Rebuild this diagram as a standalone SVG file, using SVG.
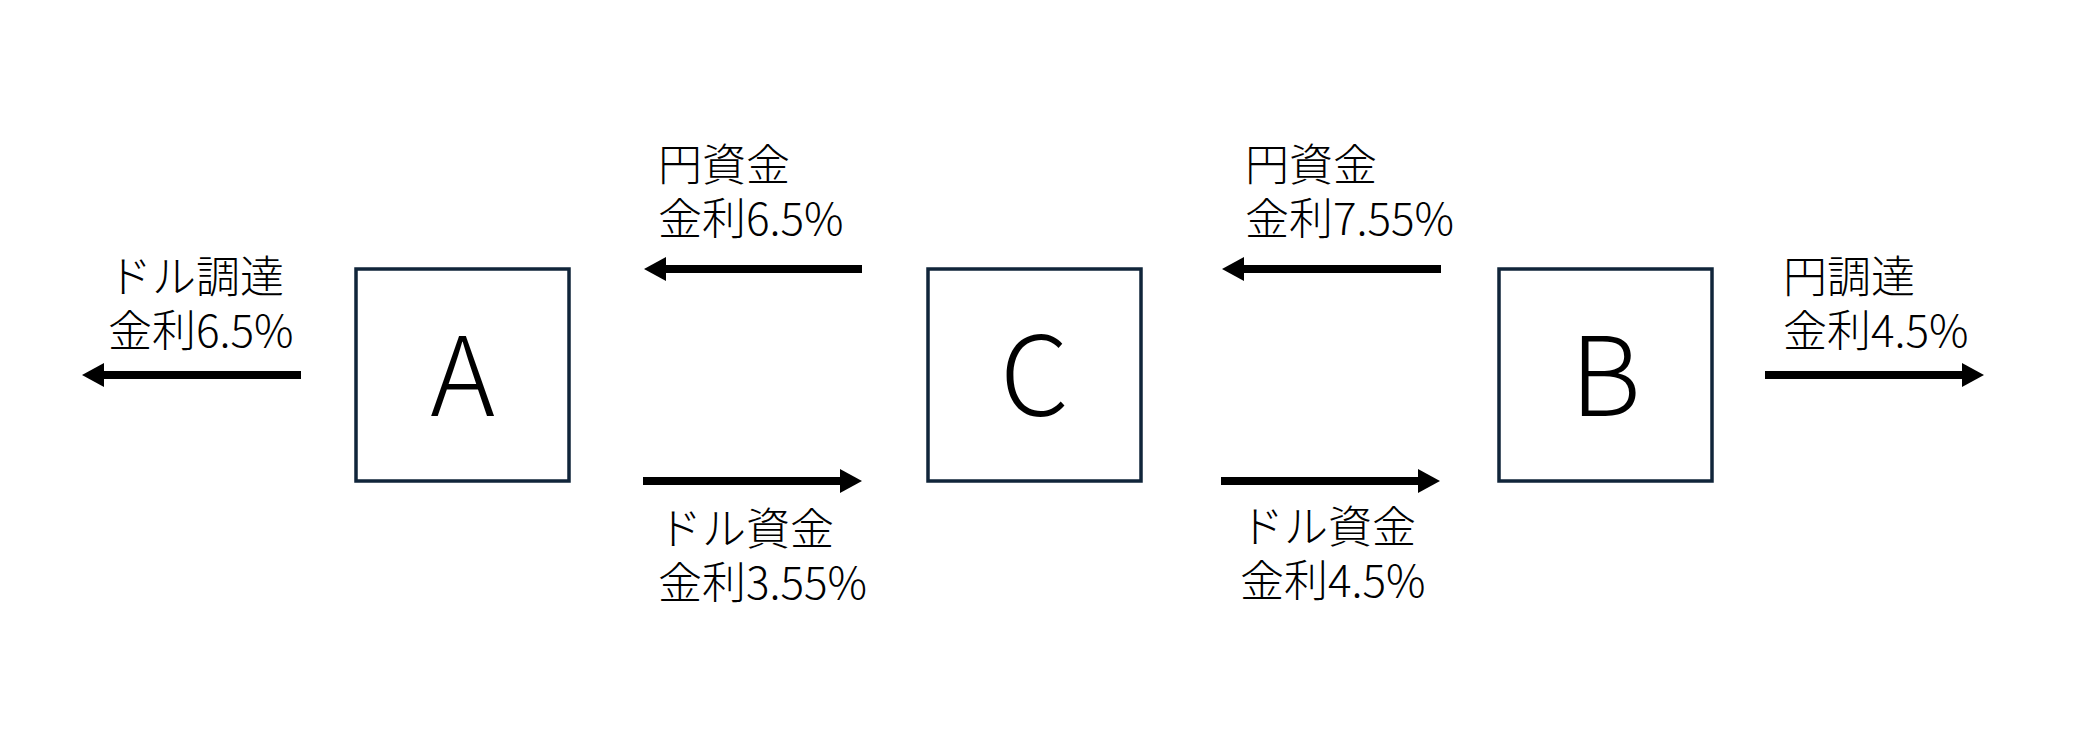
<svg xmlns="http://www.w3.org/2000/svg" width="2084" height="734" viewBox="0 0 2084 734">
<style>
.box{fill:#ffffff;stroke:#10253a;stroke-width:3.5}
.lt{font-family:"Noto Sans CJK JP","Noto Sans",sans-serif;font-size:110px;fill:#000;text-anchor:middle;font-weight:300}
.lb{font-family:"Noto Sans CJK JP","Noto Sans",sans-serif;font-size:44px;fill:#000;font-weight:300}
.ar{stroke:#000;stroke-width:8;fill:none;marker-end:url(#ah)}
</style>
<defs>
<marker id="ah" markerUnits="userSpaceOnUse" markerWidth="22" markerHeight="24" refX="1" refY="12" orient="auto">
<path d="M0,0 L22,12 L0,24 z" fill="#000"/>
</marker>
</defs>
<rect width="2084" height="734" fill="#ffffff"/>
<g id="node-A">
<rect class="box" x="356" y="269" width="213" height="212"/>
<text class="lt" x="462.5" y="416">A</text>
</g>
<g id="node-C">
<rect class="box" x="928" y="269" width="213" height="212"/>
<text class="lt" x="1034.5" y="416">C</text>
</g>
<g id="node-B">
<rect class="box" x="1499" y="269" width="213" height="212"/>
<text class="lt" x="1605.5" y="416">B</text>
</g>
<g id="connectors">
<line class="ar" x1="301" y1="375" x2="103" y2="375"/>
<line class="ar" x1="862" y1="269" x2="665" y2="269"/>
<line class="ar" x1="643" y1="481" x2="841" y2="481"/>
<line class="ar" x1="1441" y1="269" x2="1243" y2="269"/>
<line class="ar" x1="1221" y1="481" x2="1419" y2="481"/>
<line class="ar" x1="1765" y1="375" x2="1963" y2="375"/>
</g>
<g id="labels">
<text class="lb" x="108" y="293"><tspan x="108" y="293">ドル調達</tspan><tspan x="108" y="347">金利6.5%</tspan></text>
<text class="lb" x="658" y="181"><tspan x="658" y="181">円資金</tspan><tspan x="658" y="235">金利6.5%</tspan></text>
<text class="lb" x="658" y="545"><tspan x="658" y="545">ドル資金</tspan><tspan x="658" y="599">金利3.55%</tspan></text>
<text class="lb" x="1245" y="181"><tspan x="1245" y="181">円資金</tspan><tspan x="1245" y="235">金利7.55%</tspan></text>
<text class="lb" x="1240" y="543"><tspan x="1240" y="543">ドル資金</tspan><tspan x="1240" y="597">金利4.5%</tspan></text>
<text class="lb" x="1783" y="293"><tspan x="1783" y="293">円調達</tspan><tspan x="1783" y="347">金利4.5%</tspan></text>
</g>
</svg>
